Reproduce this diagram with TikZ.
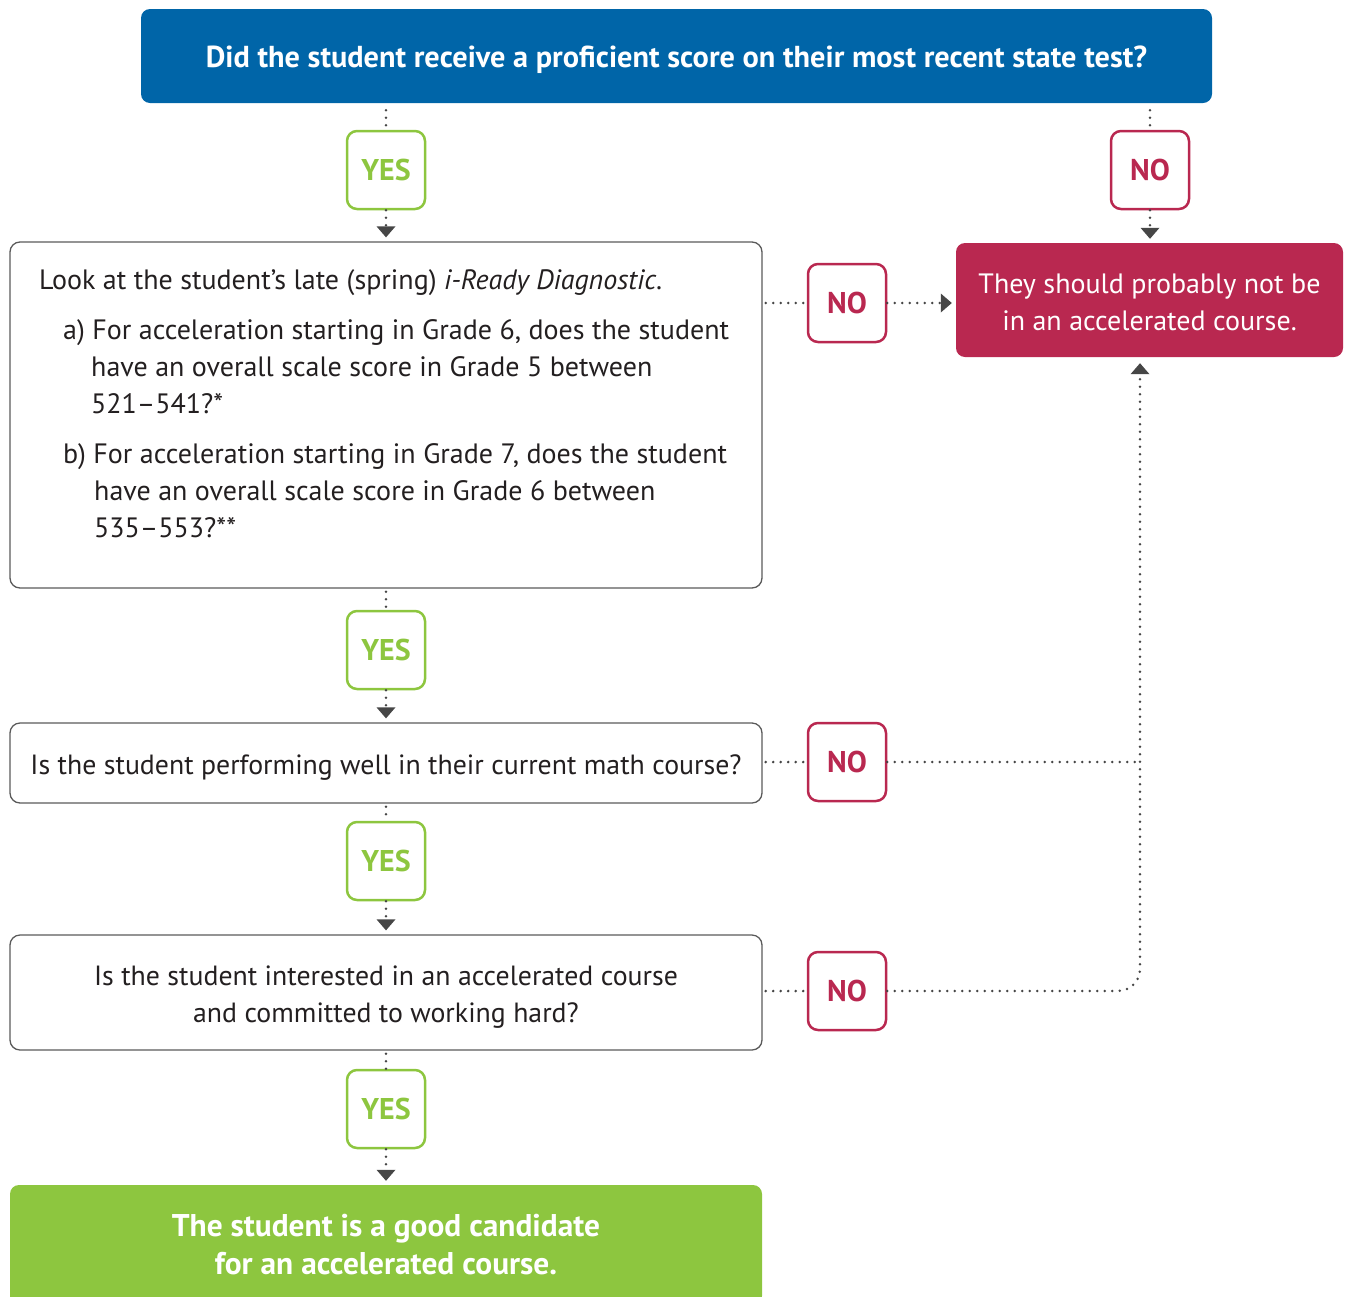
\documentclass[tikz,border=0pt]{standalone}
\usepackage{fontspec}
\setmainfont{PT Sans}
\usetikzlibrary{arrows.meta, positioning}
\definecolor{askblue}{RGB}{0,101,168}
\definecolor{nored}{RGB}{185,40,80}
\definecolor{yesgreen}{RGB}{141,198,63}
\definecolor{dotgray}{RGB}{70,70,70}
\definecolor{boxgray}{RGB}{90,90,90}
\definecolor{bodytext}{RGB}{35,31,32}

\tikzset{
    yesbox/.style={draw=yesgreen, line width=2.5pt, rounded corners=10pt, minimum size=78pt, inner sep=0pt, text=yesgreen, font=\fontsize{30}{34}\selectfont\bfseries},
    nobox/.style={draw=nored, line width=2.5pt, rounded corners=10pt, minimum size=78pt, inner sep=0pt, text=nored, font=\fontsize{30}{34}\selectfont\bfseries},
    qbox/.style={draw=boxgray, line width=1.3pt, rounded corners=10pt, minimum width=752pt, inner sep=0pt, text=bodytext, align=center, font=\fontsize{27.8}{37}\selectfont},
    endbox/.style={rounded corners=9pt, inner sep=0pt, text=white, align=center},
    dots/.style={dotgray, line width=2.8pt, line cap=round, dash pattern=on 0pt off 7.5pt},
    tip/.style={-{Triangle[width=19pt, length=11pt, line width=0pt]}}
}

\begin{document}
\begin{tikzpicture}[x=1pt, y=-1pt]
    \useasboundingbox (0,0) rectangle (1346,1296);

    % question boxes
    \node[endbox, fill=askblue, minimum width=1071pt, minimum height=94pt, font=\fontsize{30.3}{34}\selectfont\bfseries] (state) at (676.5,56) {\rule{0pt}{30pt}Did the student receive a proficient score on their most recent state test?};
    \node[qbox, minimum height=346pt] (diag) at (386,415) {};
    \node[anchor=north west, inner sep=0pt, align=left, text=bodytext, font=\fontsize{28}{37}\selectfont] (diagtxt) at (39,269) {Look at the student’s late (spring) \textit{i-Ready Diagnostic}.\\[13pt]
        \hspace*{24pt}a) For acceleration starting in Grade 6, does the student\\
        \hspace*{52pt}have an overall scale score in Grade 5 between\\
        \hspace*{52pt}521–541?*\\[13pt]
        \hspace*{24pt}b) For acceleration starting in Grade 7, does the student\\
        \hspace*{55pt}have an overall scale score in Grade 6 between\\
        \hspace*{55pt}535–553?**};
    \node[qbox, minimum height=80pt] (perf) at (386,763) {\rule{0pt}{28pt}Is the student performing well in their current math course?};
    \node[qbox, minimum height=115pt] (interest) at (386,992.5) {\rule{0pt}{28pt}Is the student interested in an accelerated course\\and committed to working hard?};

    % outcomes
    \node[endbox, fill=nored, minimum width=387pt, minimum height=114pt, font=\fontsize{28}{37}\selectfont] (notacc) at (1149.5,300) {\rule{0pt}{24pt}They should probably not be\\in an accelerated course.};
    \node[endbox, fill=yesgreen, minimum width=752pt, minimum height=120pt, font=\fontsize{31.4}{38}\selectfont\bfseries] (good) at (386,1245) {The student is a good candidate\\for an accelerated course.};

    % answers
    \node[yesbox] (yes1) at (386,170) {YES};
    \node[nobox] (no1) at (1150,170) {NO};
    \node[nobox] (no2) at (847,303) {NO};
    \node[yesbox] (yes2) at (386,650) {YES};
    \node[nobox] (no3) at (847,762) {NO};
    \node[yesbox] (yes3) at (386,861) {YES};
    \node[nobox] (no4) at (847,991) {NO};
    \node[yesbox] (yes4) at (386,1109) {YES};

    \coordinate (riser) at (1140,375);

    % yes path
    \draw[dots, shorten <=7pt] (state.south -| yes1) -- (yes1);
    \draw[dots, tip, shorten >=4pt] (yes1) -- (yes1 |- diag.north);
    \draw[dots, shorten <=3pt] (diag) -- (yes2);
    \draw[dots, tip, shorten >=4pt] (yes2) -- (perf);
    \draw[dots, shorten <=3pt] (perf) -- (yes3);
    \draw[dots, tip, shorten >=4pt] (yes3) -- (interest);
    \draw[dots, shorten <=3pt] (interest) -- (yes4);
    \draw[dots, tip, shorten >=4pt] (yes4) -- (good);

    % no path
    \draw[dots, shorten <=7pt] (state.south -| no1) -- (no1);
    \draw[dots, tip, shorten >=4pt] (no1) -- (no1 |- notacc.north);
    \draw[dots, shorten <=3pt] (diag.east |- no2) -- (no2);
    \draw[dots, tip, shorten >=4pt] (no2) -- (notacc.west |- no2);
    \draw[dots, shorten <=3pt] (perf.east |- no3) -- (no3);
    \draw[dots] (no3) -- (no3 -| riser);
    \draw[dots, shorten <=3pt] (interest.east |- no4) -- (no4);
    \draw[dots, tip, shorten >=6pt, rounded corners=22pt] (no4) -- (no4 -| riser) -- (riser |- notacc.south);
\end{tikzpicture}
\end{document}
